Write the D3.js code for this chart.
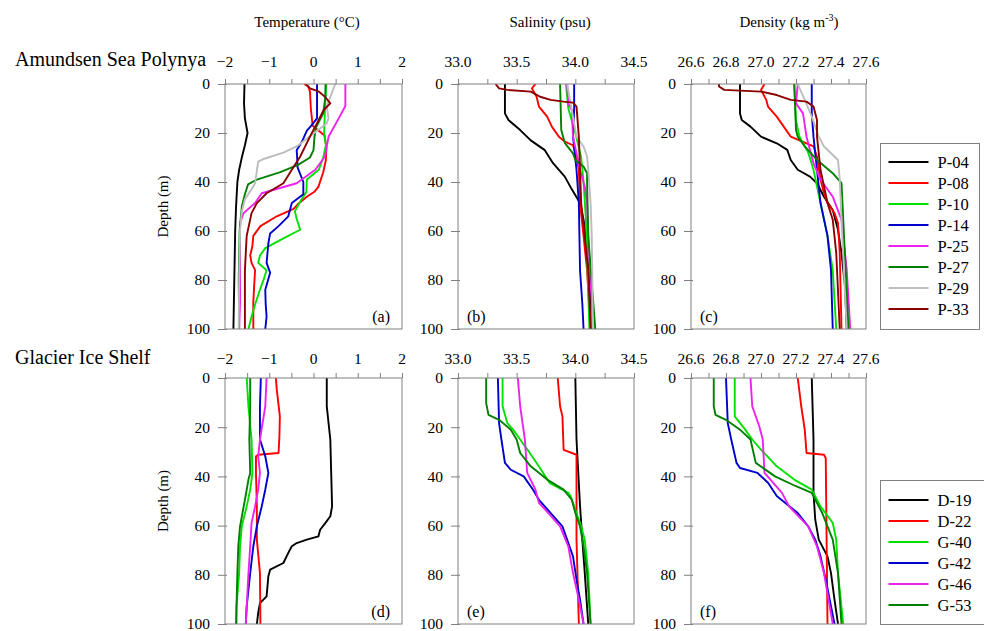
<!DOCTYPE html>
<html><head><meta charset="utf-8">
<script src="https://cdn.jsdelivr.net/npm/d3@7"></script>
<style>body{margin:0;background:#fff}svg{display:block}svg text{font-family:"Liberation Serif","Times New Roman",serif !important}</style>
</head><body><svg id="c" width="984" height="631" font-family="Liberation Serif"></svg>
<script>
// ---------- tick labels ----------
const depthTicks = [0,20,40,60,80,100];
const tempTicks = [-2,-1,0,1,2];
const salTicks = [33.0,33.5,34.0,34.5];
const denTicks = [26.6,26.8,27.0,27.2,27.4,27.6];
const varTitles = ["Temperature (\u00B0C)","Salinity (psu)","Density (kg m"];
const rowTitles = ["Amundsen Sea Polynya","Glacier Ice Shelf"];
const panelLetters = ["(a)","(b)","(c)","(d)","(e)","(f)"];

// ---------- stations ----------
const aspStations = ["P-04","P-08","P-10","P-14","P-25","P-27","P-29","P-33"];
const gisStations = ["D-19","D-22","G-40","G-42","G-46","G-53"];

// ---------- Amundsen Sea Polynya: temperature [depth, value] ----------
const P04_T = [[0,-1.56],[8,-1.57],[14,-1.55],[20,-1.49],[25,-1.55],[30,-1.62],[35,-1.68],[40,-1.72],[50,-1.75],[60,-1.77],[70,-1.78],[80,-1.79],[90,-1.80],[100,-1.81]];
const P08_T = [[0,-0.21],[1,-0.12],[3,-0.08],[10,-0.06],[17,-0.02],[21,0.25],[26,0.29],[31,0.28],[36,0.22],[42,0.11],[44,0.02],[46,-0.15],[49,-0.35],[51,-0.45],[54,-0.83],[58,-1.20],[62,-1.36],[66,-1.38],[70,-1.43],[73,-1.40],[76,-1.32],[82,-1.34],[89,-1.36],[100,-1.36]];
const P10_T = [[0,0.29],[5,0.27],[10,0.26],[15,0.25],[20,0.24],[25,0.28],[30,0.22],[35,0.12],[39,-0.15],[44,-0.16],[48,-0.30],[52,-0.42],[55,-0.38],[59.5,-0.30],[63,-0.68],[67,-1.09],[70,-1.21],[73,-1.25],[76,-1.06],[80,-1.13],[84,-1.21],[90,-1.32],[95,-1.40],[100,-1.47]];
const P14_T = [[0,0.08],[10,0.08],[14,0.08],[17,-0.05],[19,-0.15],[23.5,-0.26],[27,-0.38],[30,-0.37],[34,-0.36],[40,-0.23],[45,-0.23],[48.6,-0.49],[54,-0.57],[58,-0.79],[61,-0.98],[65,-1.02],[73,-1.06],[77,-0.98],[84,-1.09],[90,-1.08],[95,-1.06],[100,-1.09]];
const P25_T = [[0,0.72],[9,0.72],[13,0.60],[21.5,0.34],[29.6,0.26],[35,0.04],[40.5,-0.38],[44.6,-1.17],[48.6,-1.32],[52.7,-1.58],[56.8,-1.66],[66,-1.66],[89,-1.66],[100,-1.68]];
const P27_T = [[0,0.27],[5,0.27],[12,0.22],[18,0.05],[22,0.02],[27,0.0],[30,-0.08],[33,-0.35],[36,-0.75],[39,-1.28],[41,-1.48],[45,-1.55],[50,-1.62],[60,-1.67],[80,-1.69],[100,-1.68]];
const P29_T = [[0,0.49],[2,0.45],[9,0.30],[14,0.34],[16,0.30],[24,-0.27],[25.5,-0.38],[28,-0.68],[30.5,-1.11],[31.7,-1.25],[40.5,-1.32],[43,-1.40],[47,-1.55],[52,-1.62],[60,-1.66],[80,-1.68],[100,-1.69]];
const P33_T = [[0,-0.17],[1.8,-0.08],[3,0.11],[5.2,0.26],[7.9,0.38],[10.6,0.23],[16,0.08],[21.5,-0.08],[29.6,-0.30],[35,-0.49],[40.5,-0.68],[44.6,-1.06],[48.6,-1.28],[52.7,-1.40],[62,-1.51],[76,-1.55],[100,-1.55]];

// ---------- Amundsen Sea Polynya: salinity ----------
const P04_S = [[0,33.40],[8,33.40],[12,33.40],[14.7,33.43],[18.8,33.53],[23,33.62],[27,33.74],[32.3,33.81],[37.8,33.91],[43,33.97],[48.6,34.04],[55.4,34.07],[62,34.09],[76,34.11],[89,34.13],[100,34.14]];
const P08_S = [[0,33.66],[1.8,33.63],[5.2,33.67],[9.2,33.69],[13.3,33.76],[17.4,33.80],[21.5,33.86],[23.5,33.91],[25,33.98],[29.6,34.01],[35,34.03],[48.6,34.04],[62,34.07],[76,34.10],[100,34.13]];
const P10_S = [[0,33.92],[10,33.94],[20,34.0],[30,34.05],[40,34.07],[55,34.09],[70,34.10],[85,34.11],[100,34.12]];
const P14_S = [[0,33.99],[10,33.99],[21.5,33.98],[35,34.01],[48.6,34.03],[76,34.04],[90,34.06],[100,34.07]];
const P25_S = [[0,33.93],[8,33.94],[10.6,33.97],[21.5,33.98],[35,34.04],[41.8,34.08],[48.6,34.10],[62,34.11],[89,34.14],[100,34.14]];
const P27_S = [[0,33.87],[18.8,33.88],[24,33.91],[28.3,33.98],[31,34.0],[33.7,34.07],[36.4,34.10],[40,34.10],[62,34.11],[100,34.17]];
const P29_S = [[0,33.93],[8,33.96],[21.5,34.01],[25.5,34.07],[29.6,34.10],[35,34.11],[48.6,34.13],[62,34.14],[100,34.15]];
const P33_S = [[0,33.32],[1.8,33.35],[2.4,33.42],[3.1,33.62],[5.2,33.70],[6.5,33.79],[7.2,33.90],[7.6,33.98],[9.2,34.01],[21.5,34.03],[35,34.04],[48.6,34.05],[62,34.08],[76,34.11],[100,34.13]];

// ---------- Amundsen Sea Polynya: density ----------
const P04_D = [[0,26.88],[12,26.88],[14.7,26.89],[17.4,26.94],[21.5,27.00],[24.2,27.09],[26.9,27.15],[31,27.17],[35,27.21],[37.8,27.28],[40.5,27.32],[46,27.36],[51.4,27.41],[59.5,27.44],[69,27.46],[82.6,27.48],[100,27.49]];
const P08_D = [[0,27.02],[2.4,27.0],[6.5,27.03],[9.2,27.04],[13.3,27.09],[17.4,27.13],[21.5,27.17],[24.2,27.26],[25.5,27.30],[29.6,27.32],[39,27.34],[44.6,27.36],[48.6,27.38],[52.7,27.42],[56.8,27.44],[69,27.45],[100,27.46]];
const P10_D = [[0,27.19],[15,27.20],[21.5,27.22],[28,27.27],[35,27.30],[48.6,27.34],[62,27.38],[76,27.41],[100,27.43]];
const P14_D = [[0,27.29],[12,27.29],[21.5,27.30],[28.3,27.31],[35,27.32],[48.6,27.34],[62,27.38],[76,27.40],[100,27.41]];
const P25_D = [[0,27.21],[7.9,27.20],[12,27.24],[21.5,27.26],[32.3,27.30],[39,27.34],[46,27.41],[55.4,27.46],[76,27.49],[100,27.51]];
const P27_D = [[0,27.19],[18.8,27.20],[21.5,27.21],[25.5,27.25],[31,27.32],[36.4,27.41],[40.5,27.46],[55.4,27.47],[100,27.50]];
const P29_D = [[0,27.21],[6.5,27.25],[13.3,27.29],[21.5,27.33],[25.5,27.36],[31,27.44],[39,27.45],[55.4,27.46],[100,27.49]];
const P33_D = [[0,26.76],[1,26.76],[2.4,26.79],[3.1,27.0],[4.5,27.09],[6.5,27.17],[7.2,27.26],[9.2,27.30],[14.7,27.32],[21.5,27.32],[35,27.34],[48.6,27.38],[55.4,27.41],[69,27.43],[100,27.45]];

// ---------- Glacier Ice Shelf: temperature ----------
const D19_T = [[0,0.30],[11.5,0.30],[25,0.38],[38.6,0.40],[52.2,0.42],[56.2,0.38],[58.9,0.27],[61.7,0.15],[64.4,0.11],[65.7,-0.15],[67.1,-0.38],[68.4,-0.49],[71.1,-0.57],[75.2,-0.68],[77.9,-0.98],[80.6,-1.02],[88.8,-1.06],[91.5,-1.21],[95.5,-1.25],[100,-1.28]];
const D22_T = [[0,-0.85],[4.7,-0.83],[15.6,-0.76],[23.7,-0.77],[30.5,-0.79],[31.2,-1.25],[31.8,-1.30],[38.6,-1.30],[52.2,-1.28],[65.7,-1.28],[79.3,-1.21],[100,-1.20]];
const G40_T = [[0,-1.51],[11.5,-1.47],[25,-1.40],[38.6,-1.38],[45.4,-1.43],[52.2,-1.51],[60.3,-1.62],[68.4,-1.66],[79.3,-1.68],[92.8,-1.74],[100,-1.74]];
const G42_T = [[0,-1.19],[11.5,-1.21],[25,-1.21],[31.8,-1.09],[38.6,-1.02],[45.4,-1.09],[52.2,-1.17],[60.3,-1.28],[68.4,-1.36],[79.3,-1.43],[92.8,-1.51],[100,-1.53]];
const G46_T = [[0,-1.06],[11.5,-1.09],[25,-1.21],[31.8,-1.25],[38.6,-1.21],[45.4,-1.25],[52.2,-1.32],[58.9,-1.40],[68.4,-1.43],[79.3,-1.47],[100,-1.53]];
const G53_T = [[0,-1.43],[11.5,-1.43],[25,-1.45],[38.6,-1.43],[41.3,-1.47],[49.5,-1.55],[60.3,-1.66],[68.4,-1.70],[79.3,-1.72],[100,-1.75]];

// ---------- Glacier Ice Shelf: salinity ----------
const D19_S = [[0,34.0],[25,34.01],[52,34.04],[66,34.06],[79,34.08],[100,34.11]];
const D22_S = [[0,33.85],[11.5,33.87],[15.6,33.89],[29.2,33.90],[31.2,34.01],[38.6,34.01],[65.7,34.01],[100,34.03]];
const G40_S = [[0,33.38],[11.5,33.38],[18.3,33.42],[21,33.47],[25,33.53],[29,33.59],[36,33.69],[42.6,33.78],[46.7,33.94],[48,33.96],[55,34.01],[60.3,34.05],[65.7,34.08],[79.3,34.11],[100,34.13]];
const G42_S = [[0,33.34],[18.3,33.35],[25,33.37],[34.5,33.40],[37.3,33.45],[40,33.56],[45.4,33.64],[49.5,33.69],[54.9,33.79],[60.3,33.89],[65.7,33.93],[72.5,33.98],[82,34.01],[90.1,34.04],[100,34.07]];
const G46_S = [[0,33.51],[11.5,33.53],[25,33.57],[38.6,33.59],[45.4,33.66],[50.8,33.69],[54.9,33.77],[60.3,33.87],[68.4,33.94],[79.3,33.98],[90.1,34.03],[100,34.07]];
const G53_S = [[0,33.24],[10.2,33.24],[15,33.26],[17,33.35],[21,33.45],[25,33.50],[30.5,33.53],[35.9,33.62],[41.3,33.76],[45.4,33.90],[49.5,33.97],[54.9,34.0],[60.3,34.04],[68.4,34.07],[79.3,34.10],[100,34.13]];

// ---------- Glacier Ice Shelf: density ----------
const D19_D = [[0,27.29],[25,27.30],[46.7,27.30],[57.6,27.31],[65.7,27.33],[72.5,27.38],[79.3,27.40],[90.1,27.42],[100,27.44]];
const D22_D = [[0,27.21],[11.5,27.23],[21,27.25],[30.5,27.26],[31.2,27.36],[32.6,27.37],[100,27.38]];
const G40_D = [[0,26.85],[15.6,26.85],[21,26.91],[25,26.95],[29.1,27.0],[35.9,27.09],[41.3,27.19],[45.4,27.29],[52.2,27.34],[58.9,27.41],[65.7,27.43],[79.3,27.44],[100,27.47]];
const G42_D = [[0,26.80],[18.3,26.81],[25,26.83],[34.5,26.86],[36.6,26.88],[38.6,26.98],[42.6,27.04],[48,27.09],[54.9,27.21],[60.3,27.27],[65.7,27.31],[72.5,27.34],[82,27.37],[100,27.42]];
const G46_D = [[0,26.94],[11.5,26.95],[19.6,26.99],[25,27.01],[38.6,27.02],[46.7,27.12],[52.2,27.16],[60.3,27.27],[68.4,27.32],[79.3,27.36],[100,27.41]];
const G53_D = [[0,26.73],[11.5,26.73],[15,26.74],[17,26.80],[21,26.88],[25,26.94],[34.5,26.97],[40,27.08],[44,27.20],[46.7,27.29],[54.9,27.35],[65.7,27.41],[79.3,27.44],[100,27.46]];

// ---------- assembly ----------
const aspProfiles = [
  [P04_T,P08_T,P10_T,P14_T,P25_T,P27_T,P29_T,P33_T],
  [P04_S,P08_S,P10_S,P14_S,P25_S,P27_S,P29_S,P33_S],
  [P04_D,P08_D,P10_D,P14_D,P25_D,P27_D,P29_D,P33_D]];
const gisProfiles = [
  [D19_T,D22_T,G40_T,G42_T,G46_T,G53_T],
  [D19_S,D22_S,G40_S,G42_S,G46_S,G53_S],
  [D19_D,D22_D,G40_D,G42_D,G46_D,G53_D]];

// ---------- styles / layout ----------
const FONT = '"Liberation Serif","Times New Roman",serif';
const aspColors = ["#000000","#ff0000","#00e000","#0000cc","#ee22ee","#008000","#bdbdbd","#8b0000"];
const gisColors = ["#000000","#ff0000","#00e000","#0000cc","#ee22ee","#008000"];
const axisColor = "#808080";
const cols = [{x0:225,x1:402,dom:[-2,2],major:tempTicks,step:0.5,fmt:d3.format("d")},
              {x0:458,x1:634,dom:[33,34.5],major:salTicks,step:0.25,fmt:d3.format(".1f")},
              {x0:691,x1:866,dom:[26.6,27.6],major:denTicks,step:0.1,fmt:d3.format(".1f")}];
const rows = [{y0:84,y1:329,labY:67,data:aspProfiles,colors:aspColors},
              {y0:378,y1:624,labY:364,data:gisProfiles,colors:gisColors}];

const svg = d3.select("#c");
const defs = svg.append("defs");
function txt(sel){ return sel.style("font-family",FONT).attr("fill","#000"); }

rows.forEach((row,ri)=>{
  const y = d3.scaleLinear().domain([0,100]).range([row.y0,row.y1]);
  cols.forEach((col,ci)=>{
    const x = d3.scaleLinear().domain(col.dom).range([col.x0,col.x1]);
    const g = svg.append("g");
    const cid = "clip"+ri+ci;
    defs.append("clipPath").attr("id",cid).append("rect")
      .attr("x",col.x0).attr("y",row.y0).attr("width",col.x1-col.x0).attr("height",row.y1-row.y0);
    const line = d3.line().x(p=>x(p[1])).y(p=>y(p[0]));
    const lg = g.append("g").attr("clip-path","url(#"+cid+")");
    row.data[ci].forEach((prof,si)=>{
      lg.append("path").attr("d",line(prof)).attr("fill","none")
        .attr("stroke",row.colors[si]).attr("stroke-width",1.9).attr("stroke-linejoin","round");
    });
    g.append("rect").attr("x",col.x0).attr("y",row.y0).attr("width",col.x1-col.x0).attr("height",row.y1-row.y0)
      .attr("fill","none").attr("stroke",axisColor).attr("stroke-width",1);
    const n = Math.round((col.dom[1]-col.dom[0])/col.step);
    const minor = d3.range(n+1).map(i=>col.dom[0]+i*col.step);
    const topAxis = d3.axisTop(x).tickValues(minor).tickSize(5).tickFormat("");
    const ta = g.append("g").attr("transform",`translate(0,${row.y0})`).call(topAxis);
    ta.select(".domain").remove();
    ta.selectAll("line").attr("stroke",axisColor);
    txt(g.selectAll("text.tl").data(col.major).enter().append("text")
      .attr("x",d=>x(d)).attr("y",row.labY).attr("text-anchor","middle")
      .attr("font-size",15.5).text(d=>col.fmt(d)));
    const leftAxis = d3.axisLeft(y).tickValues(depthTicks).tickSize(6).tickPadding(9).tickFormat(d3.format("d"));
    const la = g.append("g").attr("transform",`translate(${col.x0},0)`).call(leftAxis);
    la.attr("font-family",null);
    la.select(".domain").remove();
    la.selectAll("line").attr("stroke",axisColor).attr("x2",-7).attr("x1",2);
    txt(la.selectAll("text").attr("font-size",15.5));
    const letter = panelLetters[ri*3+ci];
    if (ci===0) txt(g.append("text").attr("x",col.x1-12).attr("y",row.y1-7).attr("text-anchor","end").attr("font-size",16).text(letter));
    else txt(g.append("text").attr("x",col.x0+9).attr("y",row.y1-7).attr("font-size",16).text(letter));
  });
  txt(svg.append("text").attr("transform",`translate(168,${(row.y0+row.y1)/2}) rotate(-90)`)
    .attr("text-anchor","middle").attr("font-size",15).text("Depth (m)"));
  txt(svg.append("text").attr("x",15).attr("y",row.labY-(ri===0?1:0)).attr("font-size",20).text(rowTitles[ri]));
});

const titleX = [307,550,789];
txt(svg.append("text").attr("x",titleX[0]).attr("y",27).attr("text-anchor","middle").attr("font-size",15).text(varTitles[0]));
txt(svg.append("text").attr("x",titleX[1]).attr("y",27).attr("text-anchor","middle").attr("font-size",15).text(varTitles[1]));
const dt = txt(svg.append("text").attr("x",titleX[2]).attr("y",27).attr("text-anchor","middle").attr("font-size",15));
dt.append("tspan").text(varTitles[2]);
dt.append("tspan").attr("dy",-6).attr("font-size",10).text("-3");
dt.append("tspan").attr("dy",6).text(")");

function legend(names, colors, x0, y0, w, h, firstY){
  const g = svg.append("g");
  g.append("rect").attr("x",x0).attr("y",y0).attr("width",w).attr("height",h)
    .attr("fill","#fff").attr("stroke",axisColor).attr("stroke-width",1);
  names.forEach((nm,i)=>{
    const yy = firstY + i*21;
    g.append("line").attr("x1",x0+8).attr("x2",x0+48).attr("y1",yy).attr("y2",yy)
      .attr("stroke",colors[i]).attr("stroke-width",1.8);
    txt(g.append("text").attr("x",x0+57).attr("y",yy+5.5).attr("font-size",16.5).text(nm));
  });
}
legend(aspStations, aspColors, 880.5, 143.5, 99, 186, 162);
legend(gisStations, gisColors, 880.5, 480.5, 110, 144, 500);
</script></body></html>
